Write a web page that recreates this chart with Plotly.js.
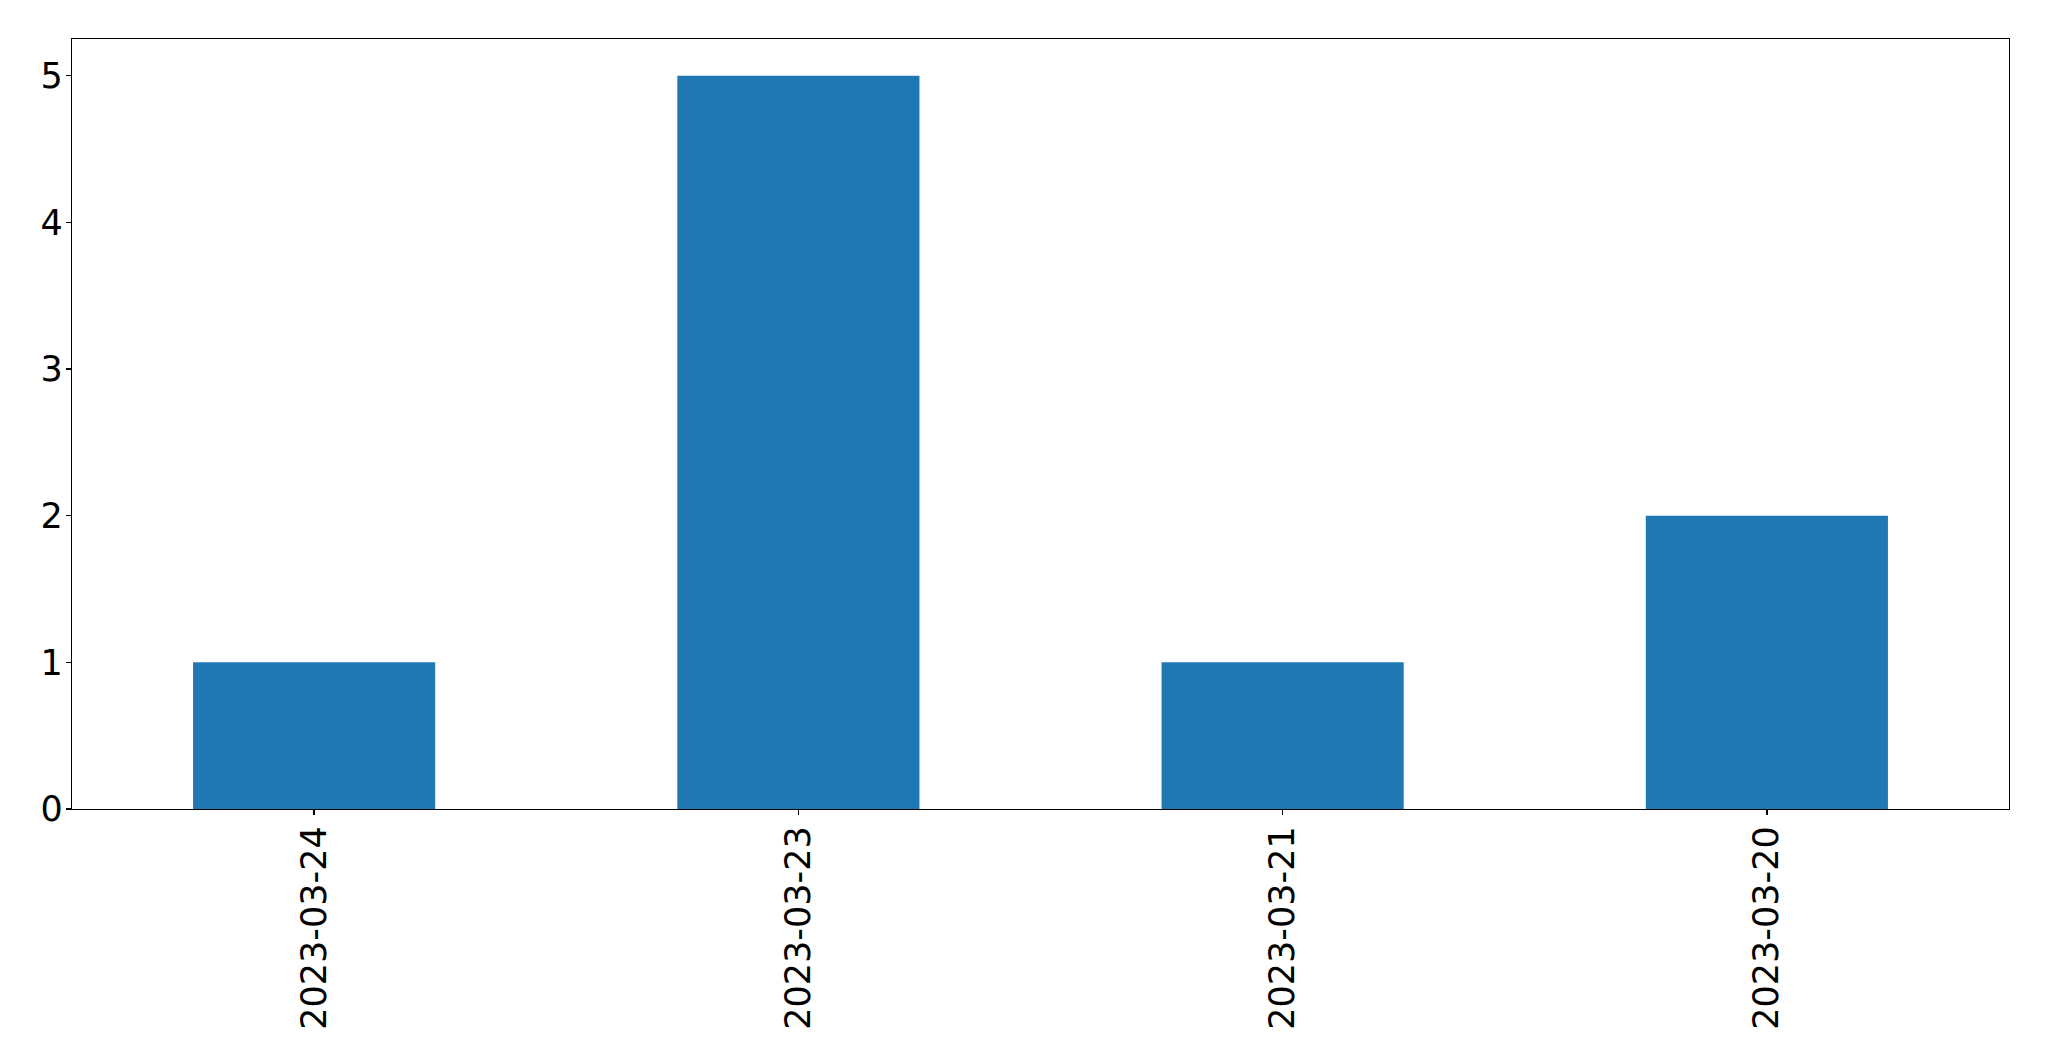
<!DOCTYPE html>
<html>
<head>
<meta charset="utf-8">
<script src="https://cdn.plot.ly/plotly-3.0.1.min.js"></script>
<style>html,body{margin:0;padding:0;background:#fff;}</style>
</head>
<body>
<div id="chart" style="width:2049px;height:1061px;"></div>
<script>
const categories = ["2023-03-24", "2023-03-23", "2023-03-21", "2023-03-20"];
const counts = [1, 5, 1, 2];
const yTicks = [0, 1, 2, 3, 4, 5];

const trace = {
  type: "bar",
  x: categories,
  y: counts,
  width: 0.5,
  marker: {color: "#1f77b4", line: {width: 0}},
  hoverinfo: "x+y"
};

const axisFont = {family: "DejaVu Sans, sans-serif", size: 35, color: "#000"};

const layout = {
  width: 2049,
  height: 1061,
  margin: {l: 72, r: 40, t: 39, b: 252, pad: 0},
  paper_bgcolor: "#fff",
  plot_bgcolor: "#fff",
  showlegend: false,
  bargap: 0.5,
  xaxis: {
    type: "category",
    range: [-0.5, 3.5],
    tickangle: -90,
    tickfont: axisFont,
    ticks: "outside",
    ticklen: 5,
    tickwidth: 1.3,
    tickcolor: "#000",
    showline: true,
    linecolor: "#000",
    linewidth: 1.3,
    mirror: true,
    showgrid: false,
    zeroline: false,
    ticklabelstandoff: -3
  },
  yaxis: {
    range: [0, 5.25],
    tickvals: yTicks,
    ticktext: yTicks.map(String),
    tickfont: axisFont,
    ticks: "outside",
    ticklen: 5,
    tickwidth: 1.3,
    tickcolor: "#000",
    showline: true,
    linecolor: "#000",
    linewidth: 1.3,
    mirror: true,
    showgrid: false,
    zeroline: false,
    ticklabelstandoff: -4
  }
};

Plotly.newPlot("chart", [trace], layout, {displayModeBar: false, staticPlot: true});
</script>
</body>
</html>
